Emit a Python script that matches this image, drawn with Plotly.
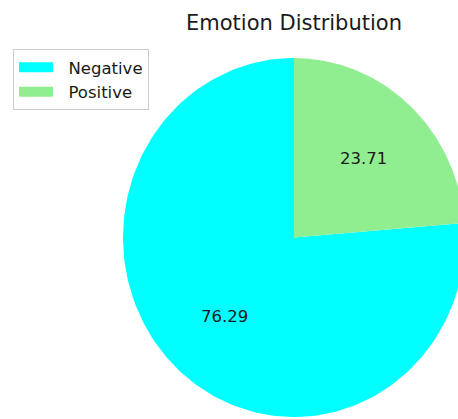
import math
import numpy as np
import plotly.graph_objects as go

labels = ["Negative", "Positive"]
values = [76.29, 23.71]
colors = ["#00ffff", "#90ee90"]
title = "Emotion Distribution"

W, H = 458, 419
# pie geometry in pixels (the reference pie is slightly elliptical)
CX, CY, RX, RY = 294.0, 237.5, 171.0, 179.5

xr = [(0 - CX) / RX, (W - CX) / RX]
yr = [(CY - H) / RY, CY / RY]

fig = go.Figure()
total = sum(values)
start = 90.0  # counterclockwise from 12 o'clock
annotations = []
for i, (lab, v, col) in enumerate(zip(labels, values, colors)):
    span = v / total * 360
    th = np.radians(np.linspace(start, start + span, 200))
    xs = np.concatenate([[0], np.cos(th), [0]])
    ys = np.concatenate([[0], np.sin(th), [0]])
    fig.add_trace(go.Scatter(
        x=xs, y=ys, mode="lines", fill="toself", fillcolor=col,
        line=dict(width=0, color=col), name=lab, legendgroup=f"g{i}",
        hoverinfo="name", showlegend=False,
    ))
    # legend entry (patch-like thick line)
    fig.add_trace(go.Scatter(
        x=[None], y=[None], mode="lines", line=dict(width=12, color=col),
        name="\u00a0\u00a0" + lab, legendgroup=f"g{i}", showlegend=True, hoverinfo="skip",
    ))
    mid = math.radians(start + span / 2)
    annotations.append(dict(
        x=0.6 * math.cos(mid), y=0.6 * math.sin(mid), xref="x", yref="y",
        text=f"{v:.2f}", showarrow=False,
        font=dict(size=16.5, color="#1a1a1a"), xanchor="center", yanchor="middle"))
    start += span

fig.update_layout(
    width=W, height=H, margin=dict(l=0, r=0, t=0, b=0),
    paper_bgcolor="white", plot_bgcolor="white",
    font=dict(family="DejaVu Sans", color="#1a1a1a"),
    xaxis=dict(range=xr, visible=False, fixedrange=True),
    yaxis=dict(range=yr, visible=False, fixedrange=True),
    title=dict(text=title, x=CX / W, xanchor="center", y=1 - 23 / H, yanchor="middle",
               yref="container", font=dict(size=21, color="#1a1a1a")),
    legend=dict(x=13 / W, y=1 - 49 / H, xanchor="left", yanchor="top",
                bordercolor="#cccccc", borderwidth=1, bgcolor="white",
                font=dict(size=16.5), itemwidth=34, tracegroupgap=0),
    annotations=annotations,
    showlegend=True,
)
fig.write_html("out.html")
